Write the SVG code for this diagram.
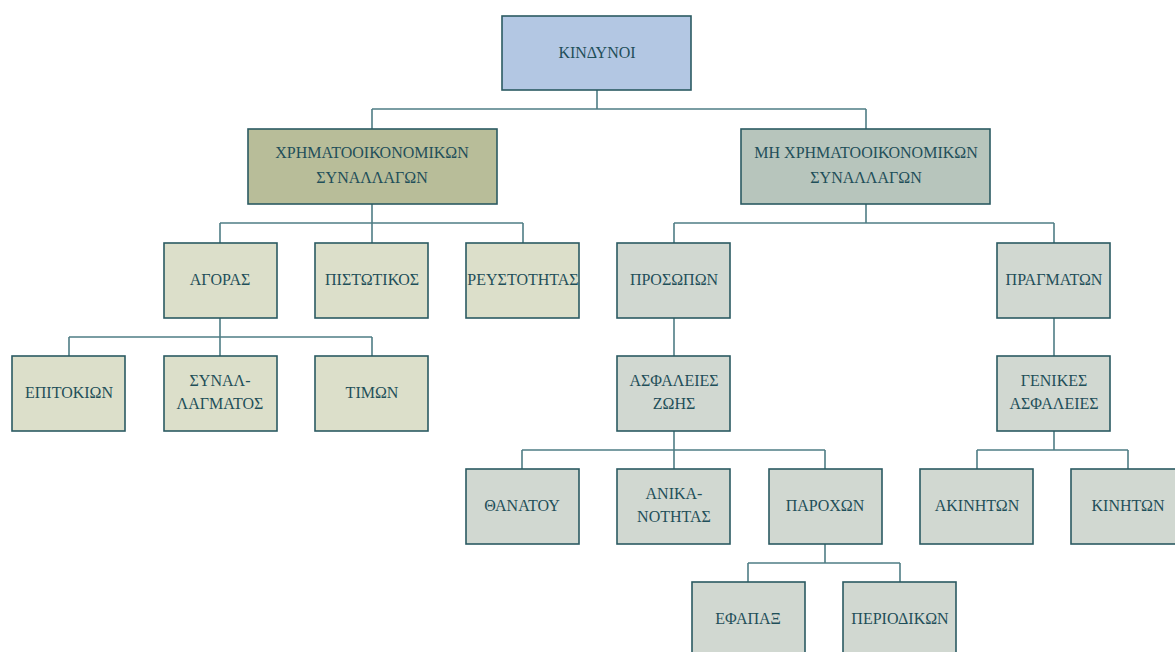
<svg xmlns="http://www.w3.org/2000/svg" width="1175" height="652" viewBox="0 0 1175 652">
<style>
rect{stroke:#2b5a62;stroke-width:1.6}
.root{fill:#b3c7e3}
.fin{fill:#b8bd99}
.nonfin{fill:#b7c5bc}
.lt{fill:#dcdfca}
.rt{fill:#d1d8d1}
text{font-family:"Liberation Serif","DejaVu Serif",serif;font-size:16px;fill:#1f4f59;text-anchor:middle}
#connectors path{stroke:#4f7d85;stroke-width:1.6;fill:none}
</style>
<rect x="0" y="0" width="1175" height="652" fill="#ffffff" style="stroke:none"/>
<g id="connectors">
<path d="M597 90V109M372 109H866M372 109V129M866 109V129"/>
<path d="M372 204V223M220 223H523M220 223V243M372 223V243M523 223V243"/>
<path d="M220 318V337M69 337H372M69 337V356M220 337V356M372 337V356"/>
<path d="M866 204V223M674 223H1054M674 223V243M1054 223V243"/>
<path d="M674 318V356M1054 318V356"/>
<path d="M674 431V450M522 450H825M522 450V469M674 450V469M825 450V469"/>
<path d="M1054 431V450M977 450H1128M977 450V469M1128 450V469"/>
<path d="M825 544V563M748 563H900M748 563V582M900 563V582"/>
</g>
<g id="n-kindynoi"><rect class="root" x="502" y="16" width="189" height="74"/><text x="597" y="58">ΚΙΝΔΥΝΟΙ</text></g>
<g id="n-xrimato"><rect class="fin" x="248" y="129" width="249" height="75"/><text x="372" y="158">ΧΡΗΜΑΤΟΟΙΚΟΝΟΜΙΚΩΝ</text><text x="372" y="183">ΣΥΝΑΛΛΑΓΩΝ</text></g>
<g id="n-mi-xrimato"><rect class="nonfin" x="741" y="129" width="249" height="75"/><text x="866" y="158">ΜΗ ΧΡΗΜΑΤΟΟΙΚΟΝΟΜΙΚΩΝ</text><text x="866" y="183">ΣΥΝΑΛΛΑΓΩΝ</text></g>
<g id="n-agoras"><rect class="lt" x="164" y="243" width="113" height="75"/><text x="220" y="285">ΑΓΟΡΑΣ</text></g>
<g id="n-pistotikos"><rect class="lt" x="315" y="243" width="113" height="75"/><text x="372" y="285">ΠΙΣΤΩΤΙΚΟΣ</text></g>
<g id="n-reystotitas"><rect class="lt" x="466" y="243" width="113" height="75"/><text x="523" y="285">ΡΕΥΣΤΟΤΗΤΑΣ</text></g>
<g id="n-epitokion"><rect class="lt" x="12" y="356" width="113" height="75"/><text x="69" y="398">ΕΠΙΤΟΚΙΩΝ</text></g>
<g id="n-synallagmatos"><rect class="lt" x="164" y="356" width="113" height="75"/><text x="220" y="386">ΣΥΝΑΛ-</text><text x="220" y="409">ΛΑΓΜΑΤΟΣ</text></g>
<g id="n-timon"><rect class="lt" x="315" y="356" width="113" height="75"/><text x="372" y="398">ΤΙΜΩΝ</text></g>
<g id="n-prosopon"><rect class="rt" x="617" y="243" width="113" height="75"/><text x="674" y="285">ΠΡΟΣΩΠΩΝ</text></g>
<g id="n-pragmaton"><rect class="rt" x="997" y="243" width="113" height="75"/><text x="1054" y="285">ΠΡΑΓΜΑΤΩΝ</text></g>
<g id="n-asfaleies-zois"><rect class="rt" x="617" y="356" width="113" height="75"/><text x="674" y="386">ΑΣΦΑΛΕΙΕΣ</text><text x="674" y="409">ΖΩΗΣ</text></g>
<g id="n-genikes"><rect class="rt" x="997" y="356" width="113" height="75"/><text x="1054" y="386">ΓΕΝΙΚΕΣ</text><text x="1054" y="409">ΑΣΦΑΛΕΙΕΣ</text></g>
<g id="n-thanatou"><rect class="rt" x="466" y="469" width="113" height="75"/><text x="522" y="511">ΘΑΝΑΤΟΥ</text></g>
<g id="n-anikanotitas"><rect class="rt" x="617" y="469" width="113" height="75"/><text x="674" y="499">ΑΝΙΚΑ-</text><text x="674" y="522">ΝΟΤΗΤΑΣ</text></g>
<g id="n-paroxon"><rect class="rt" x="769" y="469" width="113" height="75"/><text x="825" y="511">ΠΑΡΟΧΩΝ</text></g>
<g id="n-akiniton"><rect class="rt" x="920" y="469" width="113" height="75"/><text x="977" y="511">ΑΚΙΝΗΤΩΝ</text></g>
<g id="n-kiniton"><rect class="rt" x="1071" y="469" width="113" height="75"/><text x="1128" y="511">ΚΙΝΗΤΩΝ</text></g>
<g id="n-efapax"><rect class="rt" x="692" y="582" width="113" height="75"/><text x="748" y="624">ΕΦΑΠΑΞ</text></g>
<g id="n-periodikon"><rect class="rt" x="843" y="582" width="113" height="75"/><text x="900" y="624">ΠΕΡΙΟΔΙΚΩΝ</text></g>
</svg>
